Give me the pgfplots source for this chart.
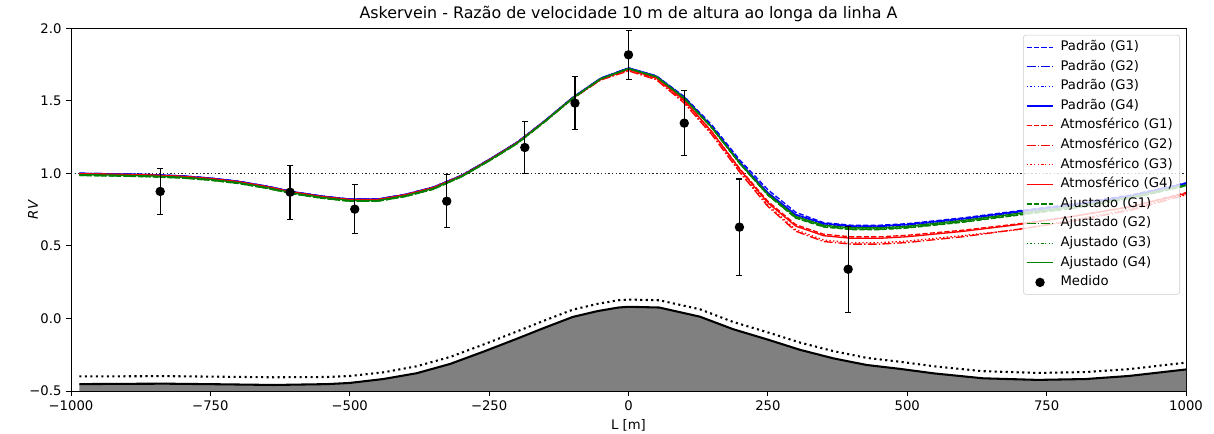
\documentclass[border=0pt]{standalone}
\usepackage{fontspec}
\setmainfont{DejaVu Sans}
\usepackage{pgfplots}
\pgfplotsset{compat=1.18}
\usepackage{pgfplotstable}
\usetikzlibrary{calc}

\definecolor{mblue}{rgb}{0,0,1}
\definecolor{mred}{rgb}{1,0,0}
\definecolor{mgreen}{rgb}{0,0.5,0}
\definecolor{terr}{rgb}{0.5,0.5,0.5}

\pgfplotstableread{
x B1 B2 B3 B4 R1 R2 R3 R4 G1 G2 G3 G4
-985 1.000 1.000 0.997 1.000 0.996 0.994 0.995 0.997 0.985 0.986 0.988 0.991
-950 0.998 0.998 0.995 0.998 0.994 0.992 0.993 0.995 0.983 0.984 0.986 0.989
-900 0.995 0.995 0.992 0.995 0.991 0.989 0.990 0.992 0.980 0.981 0.983 0.986
-850 0.990 0.990 0.987 0.990 0.986 0.984 0.985 0.987 0.975 0.976 0.978 0.981
-800 0.982 0.982 0.979 0.982 0.978 0.976 0.977 0.979 0.967 0.968 0.970 0.973
-750 0.967 0.967 0.964 0.967 0.963 0.961 0.962 0.964 0.952 0.953 0.955 0.958
-700 0.945 0.945 0.942 0.945 0.941 0.939 0.940 0.942 0.930 0.931 0.933 0.936
-650 0.912 0.912 0.909 0.912 0.908 0.906 0.907 0.909 0.897 0.898 0.900 0.903
-600 0.872 0.872 0.869 0.872 0.868 0.866 0.867 0.869 0.857 0.858 0.860 0.863
-550 0.843 0.843 0.840 0.843 0.839 0.837 0.838 0.840 0.828 0.829 0.831 0.834
-500 0.822 0.822 0.819 0.822 0.818 0.816 0.817 0.819 0.807 0.808 0.810 0.813
-450 0.822 0.822 0.819 0.822 0.818 0.816 0.817 0.819 0.807 0.808 0.810 0.813
-400 0.855 0.855 0.852 0.855 0.851 0.849 0.850 0.852 0.840 0.841 0.843 0.846
-350 0.905 0.905 0.902 0.905 0.901 0.899 0.900 0.902 0.890 0.891 0.893 0.896
-300 0.985 0.985 0.983 0.985 0.981 0.979 0.980 0.982 0.975 0.975 0.977 0.979
-250 1.095 1.095 1.093 1.095 1.091 1.089 1.090 1.092 1.085 1.085 1.087 1.089
-200 1.214 1.214 1.212 1.214 1.210 1.208 1.209 1.211 1.204 1.204 1.206 1.208
-150 1.363 1.363 1.361 1.363 1.359 1.357 1.358 1.360 1.355 1.355 1.357 1.359
-100 1.523 1.523 1.521 1.523 1.518 1.515 1.516 1.520 1.516 1.516 1.518 1.520
-50 1.655 1.655 1.653 1.655 1.648 1.643 1.645 1.650 1.650 1.650 1.651 1.652
0 1.726 1.726 1.724 1.726 1.716 1.706 1.711 1.718 1.721 1.721 1.722 1.723
50 1.672 1.670 1.668 1.670 1.655 1.645 1.650 1.660 1.665 1.665 1.666 1.667
100 1.529 1.524 1.521 1.524 1.499 1.484 1.489 1.504 1.516 1.516 1.518 1.519
150 1.331 1.319 1.316 1.319 1.284 1.264 1.269 1.284 1.311 1.311 1.313 1.314
200 1.090 1.075 1.072 1.075 1.030 1.005 1.010 1.025 1.065 1.065 1.067 1.069
250 0.887 0.867 0.863 0.867 0.807 0.772 0.782 0.797 0.849 0.851 0.853 0.857
300 0.731 0.713 0.710 0.716 0.646 0.601 0.611 0.636 0.691 0.694 0.698 0.703
350 0.660 0.652 0.649 0.655 0.580 0.530 0.540 0.570 0.630 0.633 0.637 0.642
400 0.642 0.634 0.631 0.637 0.562 0.512 0.522 0.552 0.612 0.615 0.619 0.624
450 0.642 0.634 0.631 0.637 0.562 0.512 0.522 0.552 0.612 0.615 0.619 0.624
500 0.653 0.645 0.642 0.648 0.573 0.523 0.533 0.563 0.623 0.626 0.630 0.635
600 0.693 0.685 0.682 0.688 0.608 0.563 0.571 0.600 0.663 0.666 0.670 0.675
700 0.742 0.734 0.731 0.737 0.652 0.615 0.612 0.647 0.712 0.715 0.719 0.724
800 0.790 0.782 0.779 0.785 0.705 0.673 0.680 0.705 0.760 0.763 0.767 0.772
900 0.850 0.842 0.839 0.845 0.770 0.745 0.755 0.770 0.825 0.828 0.832 0.835
1000 0.934 0.930 0.928 0.932 0.867 0.852 0.857 0.862 0.914 0.916 0.918 0.920
}\rv

\pgfplotstableread{
x t d
-985 -0.453 -0.400
-900 -0.451 -0.399
-830 -0.450 -0.398
-736 -0.454 -0.402
-636 -0.459 -0.406
-540 -0.453 -0.404
-500 -0.445 -0.397
-440 -0.418 -0.372
-380 -0.378 -0.330
-320 -0.314 -0.266
-260 -0.229 -0.180
-200 -0.140 -0.090
-153 -0.068 -0.018
-100 0.010 0.060
-56 0.050 0.100
-18 0.075 0.125
0 0.080 0.130
55 0.075 0.125
128 0.012 0.063
188 -0.075 -0.025
248 -0.144 -0.094
308 -0.217 -0.167
367 -0.275 -0.225
427 -0.321 -0.272
487 -0.348 -0.299
550 -0.380 -0.331
636 -0.413 -0.364
734 -0.424 -0.376
820 -0.418 -0.370
897 -0.397 -0.350
1000 -0.352 -0.305
}\terrain

\pgfplotstableread{
x t
-985 -0.453
-900 -0.451
-830 -0.450
-736 -0.454
-636 -0.459
-540 -0.453
-500 -0.445
-440 -0.418
-380 -0.378
-320 -0.314
-260 -0.229
-200 -0.140
-153 -0.068
-100 0.010
-56 0.050
-18 0.075
0 0.080
55 0.075
128 0.012
188 -0.075
248 -0.144
308 -0.217
367 -0.275
427 -0.321
487 -0.348
550 -0.380
636 -0.413
734 -0.424
820 -0.418
897 -0.397
1000 -0.352
1000 -0.500
-985 -0.500
}\terrainfill

\pgfplotstableread{
x y e
-840 0.875 0.157
-607 0.870 0.186
-491 0.753 0.170
-326 0.808 0.184
-186 1.178 0.178
-96 1.484 0.181
0 1.817 0.168
100 1.346 0.225
199 0.629 0.332
394 0.339 0.297
}\medido

\pgfplotstableread{
x y
-1000 1
1000 1
}\unity

\tikzset{
  mdashed/.style={dash pattern=on 3.85pt off 1.66pt},
  mdashdot/.style={dash pattern=on 6.66pt off 1.66pt on 1.04pt off 1.66pt},
  mdotted/.style={dash pattern=on 1.04pt off 1.72pt},
}

\begin{document}
\begin{tikzpicture}
\begin{axis}[
  scale only axis, width=836.25pt, height=272pt,
  xmin=-1000, xmax=1000, ymin=-0.5, ymax=2.0,
  xtick={-1000,-750,-500,-250,0,250,500,750,1000},
  xticklabels={−1000,−750,−500,−250,0,250,500,750,1000},
  ytick={-0.5,0,0.5,1,1.5,2},
  yticklabels={−0.5,0.0,0.5,1.0,1.5,2.0},
  tick align=outside, major tick length=3.65pt,
  xtick pos=left, ytick pos=left,
  tick style={black, line width=0.6pt},
  axis line style={black, line width=0.6pt},
  tick label style={font=\fontsize{9.9}{11.5}\selectfont},
  label style={font=\fontsize{9.9}{11.5}\selectfont},
  title style={font=\fontsize{11.9}{14}\selectfont, at={(0.5,1)}, anchor=base, yshift=1pt},
  title={Askervein - Razão de velocidade 10 m de altura ao longa da linha A},
  xlabel={L [m]},
  ylabel={\textit{RV}},
  every axis y label/.style={at={(axis description cs:0,0.5)}, xshift=-28.5pt, rotate=90, anchor=center},
  legend style={
    font=\fontsize{9.9}{11.5}\selectfont,
    at={(1,1)}, anchor=north east, xshift=-4.5pt, yshift=-5pt,
    draw=black!20, rounded corners=2pt,
    fill=white, fill opacity=0.8, text opacity=1,
    inner xsep=2pt, inner ysep=4pt,
    row sep=4.7pt, column sep=1.6pt,
    nodes={inner ysep=0pt, inner xsep=3.3pt, text height=0.75em, text depth=0.25em},
  },
  legend cell align=left,
  legend image code/.code={\draw[mark repeat=2,mark phase=2,#1,draw opacity=1,fill opacity=1] plot coordinates {(0pt,0pt) (10pt,0pt) (20pt,0pt)};},
  every axis plot/.append style={line width=1pt},
]
% terrain
\addplot[fill=terr, draw=none, forget plot] table[x=x,y=t] {\terrainfill};
\addplot[black, line width=1.55pt, forget plot] table[x=x,y=t] {\terrain};
\addplot[black, line width=1.55pt, dash pattern=on 1.56pt off 2.57pt, forget plot] table[x=x,y=d] {\terrain};
% reference line
\addplot[black!85, line width=1pt, mdotted, forget plot] table {\unity};
% series
\addplot[mblue, mdashed] table[x=x,y=B1] {\rv}; \addlegendentry{Padrão (G1)}
\addplot[mblue, mdashdot] table[x=x,y=B2] {\rv}; \addlegendentry{Padrão (G2)}
\addplot[mblue, mdotted] table[x=x,y=B3] {\rv}; \addlegendentry{Padrão (G3)}
\addplot[mblue] table[x=x,y=B4] {\rv}; \addlegendentry{Padrão (G4)}
\addplot[mred, mdashed] table[x=x,y=R1] {\rv}; \addlegendentry{Atmosférico (G1)}
\addplot[mred, mdashdot] table[x=x,y=R2] {\rv}; \addlegendentry{Atmosférico (G2)}
\addplot[mred, mdotted] table[x=x,y=R3] {\rv}; \addlegendentry{Atmosférico (G3)}
\addplot[mred] table[x=x,y=R4] {\rv}; \addlegendentry{Atmosférico (G4)}
\addplot[mgreen, mdashed] table[x=x,y=G1] {\rv}; \addlegendentry{Ajustado (G1)}
\addplot[mgreen, mdashdot] table[x=x,y=G2] {\rv}; \addlegendentry{Ajustado (G2)}
\addplot[mgreen, mdotted] table[x=x,y=G3] {\rv}; \addlegendentry{Ajustado (G3)}
\addplot[mgreen] table[x=x,y=G4] {\rv}; \addlegendentry{Ajustado (G4)}
\addplot[only marks, mark=*, mark size=3pt, black,
  error bars/.cd, y dir=both, y explicit,
  error bar style={line width=0.9pt, black},
  error mark options={rotate=90, line width=0.9pt, mark size=2.25pt, black}]
  table[x=x, y=y, y error=e] {\medido}; \addlegendentry{Medido}
\end{axis}
\pgfresetboundingbox
\path ($(current axis.south west)+(-53.25pt,-32.25pt)$) rectangle ($(current axis.north east)+(21pt,21.2pt)$);
\end{tikzpicture}
\end{document}
